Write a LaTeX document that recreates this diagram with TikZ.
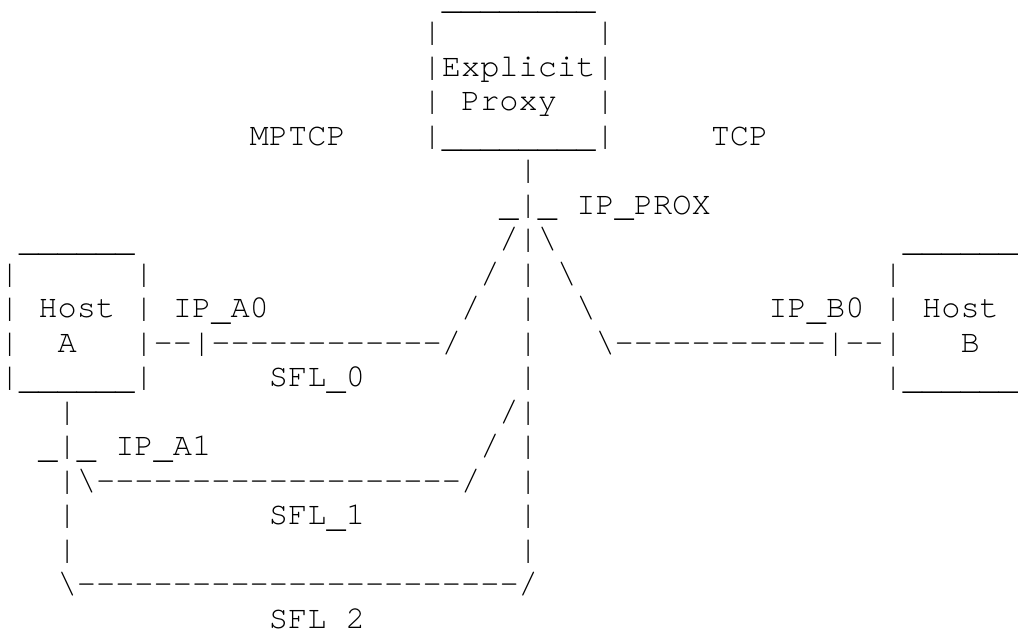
\documentclass[tikz,border=0pt]{standalone}
\usepackage{fontspec}
\setmonofont{texgyrecursor-regular.otf}
% character cell: 19.21pt wide, 34.5pt line pitch
\tikzset{
  ascii/.style={anchor=base west, inner sep=0pt, outer sep=0pt,
    font=\ttfamily\fontsize{32.02pt}{34.5pt}\selectfont, text=black}
}
% \art{name}{column}{row}{text}
\newcommand\art[4]{\node[ascii] (#1) at ({#2*19.21pt}, {-7.3pt-#3*34.5pt}) {#4};}
\newcommand\bs{\textbackslash}
% underscore set a little below the baseline
\newcommand\us{\raisebox{-2.6pt}{\_}}
\begin{document}
\begin{tikzpicture}
\useasboundingbox (0,0) rectangle (1018pt,-631pt);
% explicit proxy box
\art{pxtop}{23}{0}{\us\us\us\us\us\us\us\us}
\art{pxa}{22}{1}{|~~~~~~~~|}
\art{pxb}{22}{2}{|Explicit|}
\art{pxc}{22}{3}{|~Proxy~~|}
\art{pxd}{22}{4}{|\us\us\us\us\us\us\us\us|}
\art{mptcp}{13}{4}{MPTCP}
\art{tcp}{37}{4}{TCP}
\art{pxstem}{27}{5}{|}
\art{pxif}{26}{6}{\us|\us}
\art{ipprox}{30}{6}{IP\us PROX}
% row 7
\art{hatop}{1}{7}{\us\us\us\us\us\us}
\art{fork}{26}{7}{/|\bs}
\art{hbtop}{47}{7}{\us\us\us\us\us\us}
% row 8
\art{haa}{0}{8}{|~~~~~~|}
\art{forkb}{25}{8}{/~|~\bs}
\art{hba}{46}{8}{|}
% row 9
\art{hab}{0}{9}{|~Host~|}
\art{ipa0}{9}{9}{IP\us A0}
\art{sla}{24}{9}{/}
\art{trunka}{27}{9}{|}
\art{bsa}{30}{9}{\bs}
\art{ipb0}{40}{9}{IP\us B0}
\art{hbb}{46}{9}{|~Host}
% row 10
\art{hac}{0}{10}{|~~A~~~|--|------------/}
\art{trunkb}{27}{10}{|}
\art{sflb}{31}{10}{\bs-----------|--|}
\art{hbc}{50}{10}{B}
% row 11
\art{had}{0}{11}{|\us\us\us\us\us\us|}
\art{sfl0}{14}{11}{SFL\us 0}
\art{trunkc}{27}{11}{|}
\art{hbd}{46}{11}{|\us\us\us\us\us\us}
% row 12
\art{astema}{3}{12}{|}
\art{slb}{26}{12}{/|}
% row 13
\art{aif}{2}{13}{\us|\us}
\art{ipa1}{6}{13}{IP\us A1}
\art{slc}{25}{13}{/}
\art{trunkd}{27}{13}{|}
% row 14
\art{sfl1line}{3}{14}{|\bs-------------------/}
\art{trunke}{27}{14}{|}
% row 15
\art{astemb}{3}{15}{|}
\art{sfl1}{14}{15}{SFL\us 1}
\art{trunkf}{27}{15}{|}
% row 16
\art{astemc}{3}{16}{|}
\art{trunkg}{27}{16}{|}
% rows 17-18
\art{sfl2line}{3}{17}{\bs-----------------------/}
\art{sfl2}{14}{18}{SFL\us 2}
\end{tikzpicture}
\end{document}
